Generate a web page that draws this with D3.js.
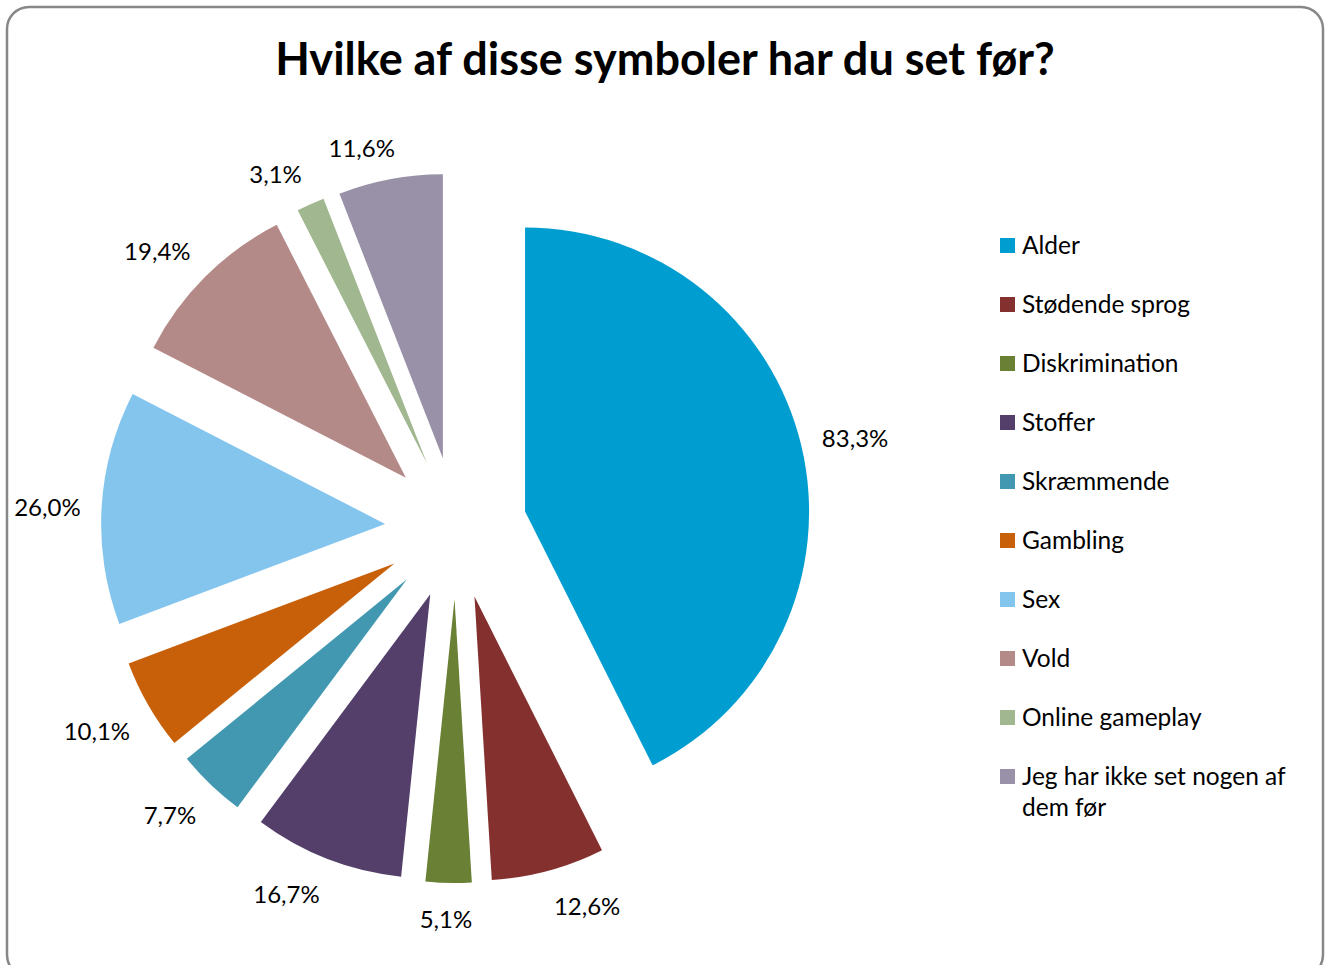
<!DOCTYPE html>
<html>
<head>
<meta charset="utf-8">
<script src="https://cdn.jsdelivr.net/npm/d3@7"></script>
<style>
  body { margin: 0; background: #fff; }
  text { font-family: Lato, "Noto Sans", sans-serif; fill: #000; }
</style>
</head>
<body>
<div id="chart"></div>
<script>
(function () {

    var categories = ['Alder', 'Stødende sprog', 'Diskrimination', 'Stoffer', 'Skræmmende',
                      'Gambling', 'Sex', 'Vold', 'Online gameplay', 'Jeg har ikke set nogen af dem før'];
    var values = [83.3, 12.6, 5.1, 16.7, 7.7, 10.1, 26.0, 19.4, 3.1, 11.6];
    var labels = ['83,3%', '12,6%', '5,1%', '16,7%', '7,7%', '10,1%', '26,0%', '19,4%', '3,1%', '11,6%'];
    var colors = ['#009dd0', '#84302e', '#6a8035', '#533f6a', '#4298b0',
                  '#c8600a', '#84c5ee', '#b48a89', '#a1b78f', '#9991a7'];

    var w = 1325;
    var h = 965;
    var cx = 456, cy = 528;
    var radius = 284;
    var explode = 71;
    var labelR = 376;

    var svg = d3.select('#chart')
        .append('svg')
            .attr('width', w)
            .attr('height', h);

    // frame
    svg.append('rect')
        .attr('x', 7).attr('y', 7)
        .attr('width', 1316).attr('height', 970)
        .attr('rx', 22).attr('ry', 22)
        .attr('fill', '#fff')
        .attr('stroke', '#878787')
        .attr('stroke-width', 2.5);

    svg.append('text')
        .attr('x', 665).attr('y', 75)
        .attr('text-anchor', 'middle')
        .style('font-weight', 'bold')
        .style('font-size', '45px')
        .text('Hvilke af disse symboler har du set før?');

    var pie = d3.pie().sort(null).value(function (d) { return d; });
    var arcs = pie(values);
    var arc = d3.arc().innerRadius(0).outerRadius(radius);

    function dir(d) {
        var a = (d.startAngle + d.endAngle) / 2;
        return [Math.sin(a), -Math.cos(a)];
    }
    function clamp(v) { return Math.max(-1, Math.min(1, v)); }

    var g = svg.append('g').attr('transform', 'translate(' + cx + ',' + cy + ')');

    g.selectAll('path')
        .data(arcs)
        .enter()
        .append('path')
            .attr('d', arc)
            .attr('fill', function (d, i) { return colors[i]; })
            .attr('transform', function (d) {
                var u = dir(d);
                return 'translate(' + (u[0] * explode) + ',' + (u[1] * explode) + ')';
            });

    // data labels, nearest box corner sits on a circle
    g.selectAll('text.lbl')
        .data(arcs)
        .enter()
        .append('text')
        .attr('class', 'lbl')
        .style('font-size', '24px')
        .attr('text-anchor', 'middle')
        .attr('dy', '0.35em')
        .text(function (d, i) { return labels[i]; })
        .each(function (d) {
            var bb = this.getBBox();
            var u = dir(d);
            var x = u[0] * labelR + clamp(u[0] / 0.25) * bb.width / 2;
            var y = u[1] * labelR + clamp(u[1] / 0.5) * 13 + 3;
            d3.select(this).attr('x', x).attr('y', y);
        });

    // legend
    var legend = svg.append('g').attr('transform', 'translate(1000,245)');
    var item = legend.selectAll('g')
        .data(categories)
        .enter()
        .append('g')
            .attr('transform', function (d, i) { return 'translate(0,' + (i * 59) + ')'; });

    item.append('rect')
        .attr('x', 0).attr('y', -7)
        .attr('width', 15).attr('height', 15)
        .attr('fill', function (d, i) { return colors[i]; });

    item.append('text')
        .attr('x', 22).attr('y', 0)
        .attr('dy', '0.35em')
        .style('font-size', '24.5px')
        .each(function (d) {
            var t = d3.select(this);
            if (d.length > 28) {
                t.append('tspan').attr('x', 22).text('Jeg har ikke set nogen af');
                t.append('tspan').attr('x', 22).attr('dy', '1.3em').text('dem før');
            } else {
                t.text(d);
            }
        });

})();
</script>
</body>
</html>
